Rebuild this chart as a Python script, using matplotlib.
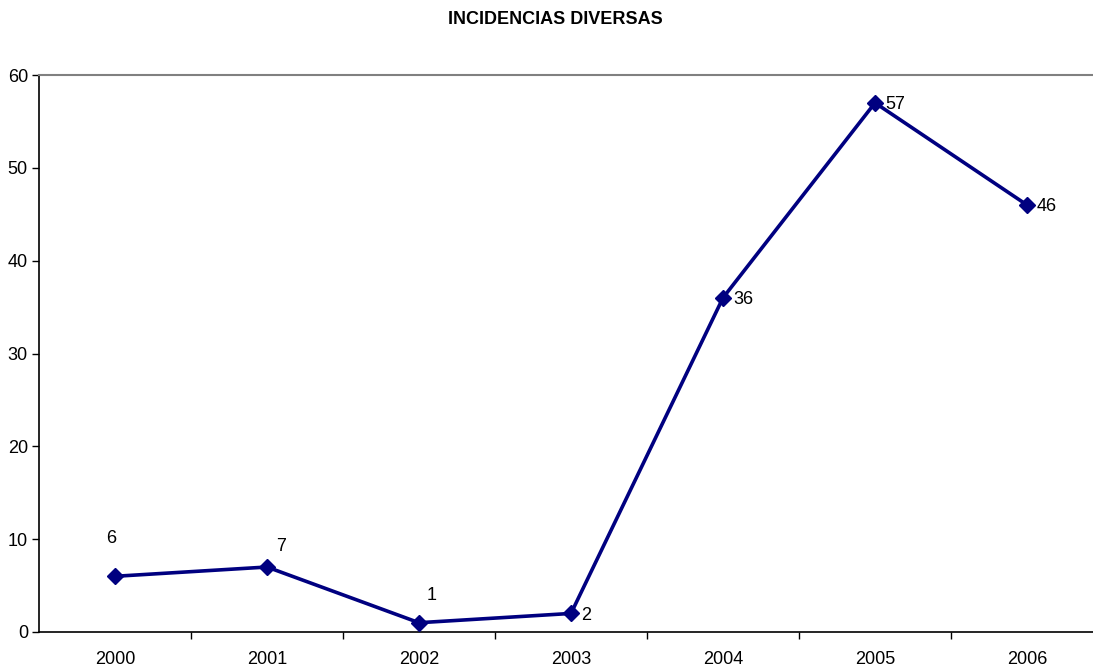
import matplotlib
matplotlib.use("Agg")
import matplotlib.pyplot as plt
import numpy as np

plt.rcParams['font.family'] = ['Liberation Sans', 'DejaVu Sans']

# datos
years = ['2000', '2001', '2002', '2003', '2004', '2005', '2006']
incidencias = [6, 7, 1, 2, 36, 57, 46]
# desplazamiento de las etiquetas (pixeles)
label_off = [(-4, 38, 'center'), (14, 21, 'center'), (13, 27, 'center'),
             (10, -2, 'left'), (10, -2, 'left'), (10, -2, 'left'), (10, -2, 'left')]

fig = plt.figure(figsize=(10.93, 6.69), dpi=100)
ax = fig.add_axes([39 / 1093, 37 / 669, 1064 / 1093, 557 / 669])

x = np.arange(len(years))
ax.plot(x, incidencias, color='#000080', lw=2.6, marker='D', ms=8,
        clip_on=False, zorder=3)

for i, v in enumerate(incidencias):
    dx, dy, ha = label_off[i]
    ax.annotate(str(v), (x[i], v), xytext=(dx, dy), textcoords='offset pixels',
                ha=ha, va='center', fontsize=13)

ax.set_xlim(-0.5, len(years) - 0.5)
ax.set_ylim(0, 60)
ax.set_yticks(range(0, 61, 10))

# marcas entre categorias
ax.set_xticks(np.arange(0.5, len(years) - 0.5))
ax.set_xticklabels([])
ax.set_xticks(x, minor=True)
ax.set_xticklabels(years, minor=True)
ax.tick_params(axis='x', which='major', direction='out', length=5, width=1)
ax.tick_params(axis='x', which='minor', length=0, pad=14, labelsize=13)
ax.tick_params(axis='y', direction='out', length=5, width=1, pad=3, labelsize=13)

for s in ['top', 'right']:
    ax.spines[s].set_color('#808080')
    ax.spines[s].set_linewidth(1.5)
for s in ['left', 'bottom']:
    ax.spines[s].set_color('black')
    ax.spines[s].set_linewidth(1.2)

fig.text(555 / 1093, 1 - 20 / 669, 'INCIDENCIAS DIVERSAS', ha='center', va='center',
         fontsize=13, fontweight='bold')

fig.savefig('out.png', dpi=100)
